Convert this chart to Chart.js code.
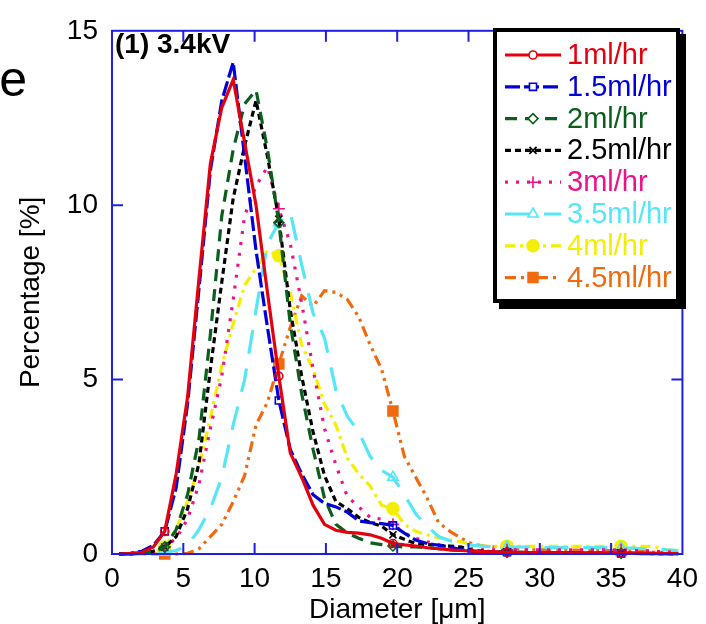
<!DOCTYPE html>
<html><head><meta charset="utf-8">
<script src="https://cdn.jsdelivr.net/npm/chart.js@4.4.1/dist/chart.umd.min.js"></script>
<style>html,body{margin:0;padding:0;background:#fff;}#wrap{width:706px;height:624px;position:relative;overflow:hidden}</style>
</head><body><div id="wrap"><canvas id="c" width="706" height="624"></canvas></div>
<script>
// ---------- DATA ----------
const diameters = [0.5,1.3,2.1,2.9,3.7,4.5,5.3,6.1,6.9,7.7,8.5,9.3,10.1,10.9,11.7,12.5,13.3,14.1,14.9,15.7,16.5,17.3,18.1,18.9,19.7,20.5,21.3,22.1,22.9,23.7,24.5,25.3,26.1,26.9,27.7,28.5,29.3,30.1,30.9,31.7,32.5,33.3,34.1,34.9,35.7,36.5,37.3,38.1,38.9,39.7];
const seriesNames = ['1ml/hr','1.5ml/hr','2ml/hr','2.5ml/hr','3ml/hr','3.5ml/hr','4ml/hr','4.5ml/hr'];
const flow1 = [0,0.02,0.05,0.2,0.65,2.3,4.5,7.9,11.2,12.8,13.6,11.8,10.0,7.5,5.1,2.9,2.2,1.4,0.85,0.68,0.62,0.6,0.55,0.45,0.3,0.26,0.23,0.18,0.15,0.12,0.1,0.08,0.07,0.06,0.05,0.05,0.04,0.04,0.04,0.03,0.03,0.03,0.03,0.02,0.02,0.02,0.02,0.02,0.01,0.01];
const flow15 = [0,0.02,0.08,0.25,0.65,1.9,4.3,7.6,11.0,13.0,14.1,11.4,8.7,6.5,4.4,3.0,2.3,1.7,1.45,1.35,1.2,0.95,0.9,0.87,0.82,0.6,0.4,0.3,0.25,0.2,0.12,0.08,0.06,0.05,0.05,0.04,0.04,0.03,0.03,0.03,0.03,0.02,0.02,0.02,0.02,0.02,0.01,0.01,0.01,0.01];
const flow2 = [0,0,0.02,0.05,0.2,0.7,1.7,3.3,6.3,9.7,11.6,12.9,13.3,11.6,9.5,6.6,4.6,3.0,1.6,0.85,0.6,0.45,0.32,0.27,0.23,0.2,0.2,0.18,0.15,0.12,0.1,0.08,0.06,0.05,0.05,0.04,0.04,0.03,0.03,0.03,0.03,0.02,0.02,0.02,0.02,0.02,0.01,0.01,0.01,0.01];
const flow25 = [0,0,0.02,0.08,0.2,0.5,1.3,2.6,5.3,7.8,10.2,11.7,13.0,11.4,9.6,7.0,5.1,3.5,2.25,1.5,1.3,1.05,0.9,0.8,0.55,0.42,0.3,0.27,0.25,0.23,0.2,0.1,0.08,0.06,0.05,0.05,0.04,0.04,0.04,0.03,0.03,0.03,0.03,0.02,0.02,0.02,0.02,0.02,0.01,0.01];
const flow3 = [0,0,0.02,0.08,0.2,0.45,1.0,2.0,3.6,5.1,7.3,9.7,10.55,11.1,9.9,8.9,7.2,5.3,3.6,2.55,1.65,1.35,1.05,1.0,0.85,0.6,0.45,0.35,0.27,0.2,0.15,0.15,0.12,0.12,0.12,0.12,0.12,0.12,0.12,0.12,0.12,0.12,0.12,0.12,0.12,0.1,0.1,0.08,0.06,0.05];
const flow35 = [0,0,0,0.02,0.05,0.1,0.25,0.7,1.3,2.2,3.7,5.0,7.0,8.9,9.5,9.8,8.3,6.9,6.2,4.7,3.95,3.5,2.8,2.4,2.2,1.7,1.15,0.8,0.5,0.38,0.3,0.25,0.22,0.2,0.2,0.2,0.2,0.18,0.18,0.18,0.18,0.18,0.18,0.18,0.17,0.17,0.15,0.15,0.12,0.1];
const flow4 = [0,0,0,0.05,0.2,0.7,1.5,2.5,3.9,5.4,6.6,7.7,8.2,8.7,8.55,7.5,6.0,5.3,4.3,3.7,2.75,2.3,1.95,1.4,1.3,0.85,0.65,0.55,0.46,0.4,0.35,0.25,0.22,0.22,0.22,0.22,0.22,0.22,0.22,0.22,0.22,0.22,0.22,0.22,0.22,0.22,0.22,0.2,0.12,0.1];
const flow45 = [0,0,0,0,0,0,0.02,0.15,0.5,0.85,1.5,2.25,3.7,4.35,5.45,6.5,7.4,7.1,7.55,7.5,7.3,6.8,6.0,5.3,4.1,2.8,2.2,1.6,0.9,0.65,0.45,0.28,0.23,0.2,0.17,0.15,0.12,0.12,0.12,0.11,0.11,0.1,0.1,0.1,0.1,0.08,0.07,0.05,0.04,0.03];
const markerDiameters = [3.7, 11.7, 19.7, 27.7, 35.7];
const xTickValues = [0,5,10,15,20,25,30,35,40];
const yTickValues = [0,5,10,15];
const panelLabel = '(1) 3.4kV';
const xTitle = 'Diameter [μm]';
const yTitle = 'Percentage [%]';

// ---------- STYLES ----------
const allSeries = [flow1, flow15, flow2, flow25, flow3, flow35, flow4, flow45];
const styles = [
  {color:'#e3000f', dash:[], point:'circle', r:4, fill:false},
  {color:'#0000d8', dash:[15,4], point:'rect', r:5, fill:false},
  {color:'#0b5e1c', dash:[12,8], point:'rectRot', r:5, fill:false},
  {color:'#000000', dash:[6,4], point:'crossRot', r:5, fill:false},
  {color:'#ee1288', dash:[3,8], point:'cross', r:6, fill:false},
  {color:'#55e6f8', dash:[24,15], point:'triangle', r:6, fill:false},
  {color:'#f4ee00', dash:[10,5,3,5], point:'circle', r:6, fill:true},
  {color:'#f06a10', dash:[11,5,3,5,3,5], point:'rect', r:7, fill:true}
];
const FONT = "'Liberation Sans', Arial, sans-serif";
const AXIS = '#1f1fe0';

const datasets = allSeries.map((vals, si) => {
  const st = styles[si];
  return {
    label: seriesNames[si],
    data: diameters.map((d, i) => ({x: d, y: vals[i]})),
    borderColor: st.color,
    backgroundColor: st.color,
    borderWidth: 3.2,
    borderDash: st.dash,
    tension: 0,
    clip: false,
    pointStyle: st.point,
    pointRadius: ctx => markerDiameters.includes(diameters[ctx.dataIndex]) ? st.r : 0,
    pointHoverRadius: 0,
    pointBorderColor: st.color,
    pointBackgroundColor: st.fill ? st.color : 'rgba(0,0,0,0)',
    pointBorderWidth: 1.6
  };
});

const framePlugin = {
  id: 'frame',
  afterDraw(chart) {
    const {ctx, chartArea: {left, right, top, bottom}, scales: {x, y}} = chart;
    ctx.save();
    ctx.setLineDash([]);
    ctx.strokeStyle = AXIS; ctx.lineWidth = 2;
    ctx.strokeRect(left, top, right - left, bottom - top);
    ctx.beginPath();
    xTickValues.forEach(v => {
      if (v === x.min || v === x.max) return;
      const px = x.getPixelForValue(v);
      ctx.moveTo(px, bottom); ctx.lineTo(px, bottom - 11);
      ctx.moveTo(px, top); ctx.lineTo(px, top + 11);
    });
    yTickValues.forEach(v => {
      if (v === y.min || v === y.max) return;
      const py = y.getPixelForValue(v);
      ctx.moveTo(left, py); ctx.lineTo(left + 11, py);
      ctx.moveTo(right, py); ctx.lineTo(right - 11, py);
    });
    ctx.stroke();

    // panel label
    ctx.fillStyle = '#000';
    ctx.font = 'bold 28px ' + FONT;
    ctx.textAlign = 'left'; ctx.textBaseline = 'alphabetic';
    ctx.fillText(panelLabel, left + 3, 53);
    // cut-off text at the far left
    ctx.font = '50px ' + FONT;
    ctx.textAlign = 'right';
    ctx.fillText('le', 27, 96);

    // legend
    const bx = 495, by = 30, bw = 183, bh = 271;
    ctx.fillStyle = '#000';
    ctx.fillRect(bx + 4, by + 4, bw + 4, bh + 4);
    ctx.fillStyle = '#fff';
    ctx.fillRect(bx, by, bw, bh);
    ctx.strokeStyle = '#000'; ctx.lineWidth = 4;
    ctx.strokeRect(bx, by, bw, bh);
    const rowY0 = 55, rowDy = 31.8;
    chart.data.datasets.forEach((ds, i) => {
      const st = styles[i];
      const yy = rowY0 + i * rowDy;
      ctx.strokeStyle = st.color; ctx.lineWidth = 3.2;
      ctx.setLineDash(st.dash);
      ctx.beginPath(); ctx.moveTo(505, yy); ctx.lineTo(561, yy); ctx.stroke();
      ctx.setLineDash([]);
      ctx.fillStyle = st.fill ? st.color : '#fff';
      ctx.strokeStyle = st.color; ctx.lineWidth = 1.6;
      if (Chart.helpers && Chart.helpers.drawPoint) {
        Chart.helpers.drawPoint(ctx, {pointStyle: st.point, radius: st.r, borderWidth: 1.6, rotation: 0}, 533, yy);
      }
      ctx.fillStyle = st.color;
      ctx.font = '29px ' + FONT;
      ctx.textAlign = 'left'; ctx.textBaseline = 'middle';
      ctx.fillText(ds.label, 567, yy + 1);
    });
    ctx.restore();
  }
};

new Chart(document.getElementById('c'), {
  type: 'line',
  data: {datasets},
  options: {
    responsive: false,
    devicePixelRatio: 1,
    animation: false,
    layout: {padding: {top: 24, right: 19, left: 0, bottom: 0}},
    plugins: {legend: {display: false}, tooltip: {enabled: false}},
    events: [],
    scales: {
      x: {
        type: 'linear', min: 0, max: 40,
        afterBuildTicks: s => { s.ticks = xTickValues.map(v => ({value: v})); },
        grid: {display: false, drawTicks: false},
        border: {display: false},
        ticks: {color: '#000', font: {family: FONT, size: 28}, padding: 8, maxRotation: 0, autoSkip: false},
        title: {display: true, text: xTitle, color: '#000', font: {family: FONT, size: 28, lineHeight: 1}, padding: {top: 0, bottom: 0}},
        afterFit: s => { s.height = 70; }
      },
      y: {
        type: 'linear', min: 0, max: 15,
        afterBuildTicks: s => { s.ticks = yTickValues.map(v => ({value: v})); },
        grid: {display: false, drawTicks: false},
        border: {display: false},
        ticks: {color: '#000', font: {family: FONT, size: 28}, padding: 14},
        title: {display: true, text: yTitle, color: '#000', font: {family: FONT, size: 28, lineHeight: 1}, padding: {top: 17, bottom: 0}},
        afterFit: s => { s.width = 112; }
      }
    }
  },
  plugins: [framePlugin]
});
</script>
</body></html>
